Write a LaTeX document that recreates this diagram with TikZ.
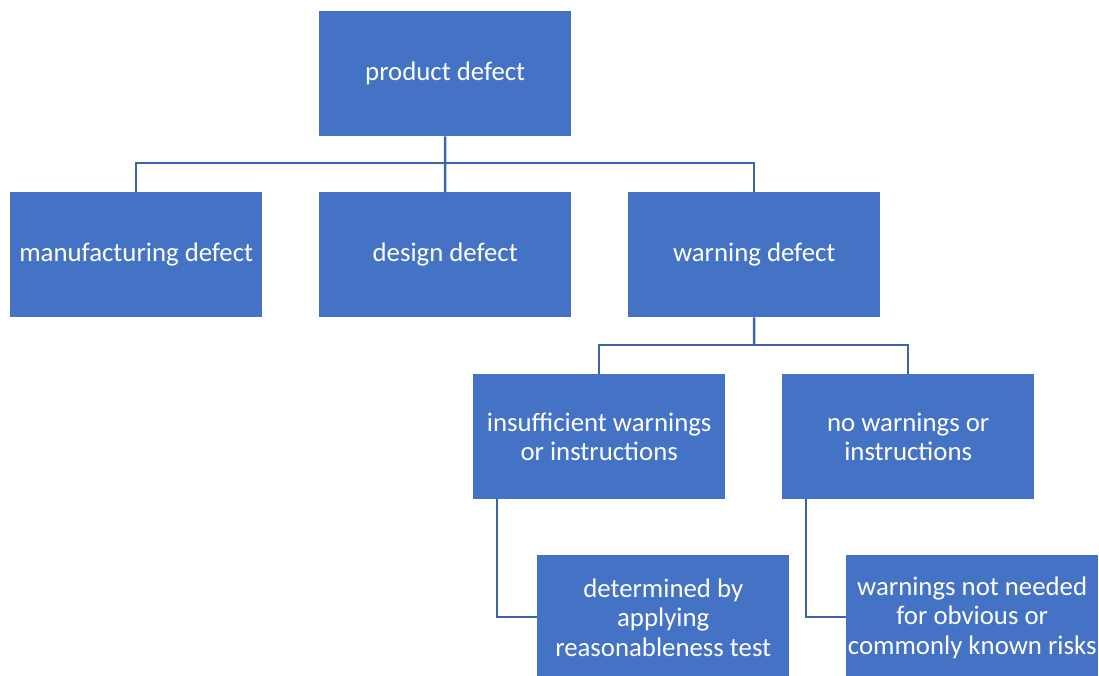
\documentclass[tikz,border=0pt]{standalone}
\usepackage{fontspec}
\setmainfont{Carlito}
\definecolor{boxblue}{HTML}{4472C4}
\definecolor{lineblue}{HTML}{3B64AD}
\begin{document}
\begin{tikzpicture}[x=1pt,y=-1pt,
  box/.style={fill=boxblue,draw=none,text=white,align=center,
    minimum width=252pt,minimum height=125pt,inner sep=1pt,
    font=\fontsize{26.8}{29.5}\selectfont,anchor=north west},
  conn/.style={draw=lineblue,line width=2.5pt}]
\useasboundingbox (0,0) rectangle (1099,675);
\node[box] (pd) at (319,11) {product defect};
\node[box] (md) at (10,192) {manufacturing defect};
\node[box] (dd) at (319,192) {design defect};
\node[box] (wd) at (628,192) {warning defect};
\node[box] (iw) at (473,374) {insufficient warnings\\or instructions};
\node[box] (nw) at (782,374) {no warnings or\\instructions};
\node[box] (dt) at (537,555) {determined by\\applying\\reasonableness test};
\node[box] (wn) at (846,555) {warnings not needed\\for obvious or\\commonly known risks};
\coordinate (j1) at (445,163);
\coordinate (j2) at (754,345);
\draw[conn] (pd.south) -- (j1);
\draw[conn] (md.north) |- (j1) -| (wd.north);
\draw[conn] (j1) -- (dd.north);
\draw[conn] (wd.south) -- (j2);
\draw[conn] (iw.north) |- (j2) -| (nw.north);
\draw[conn] ([xshift=24pt]iw.south west) |- (dt.west |- 0,617);
\draw[conn] ([xshift=24pt]nw.south west) |- (wn.west |- 0,617);
\end{tikzpicture}
\end{document}
